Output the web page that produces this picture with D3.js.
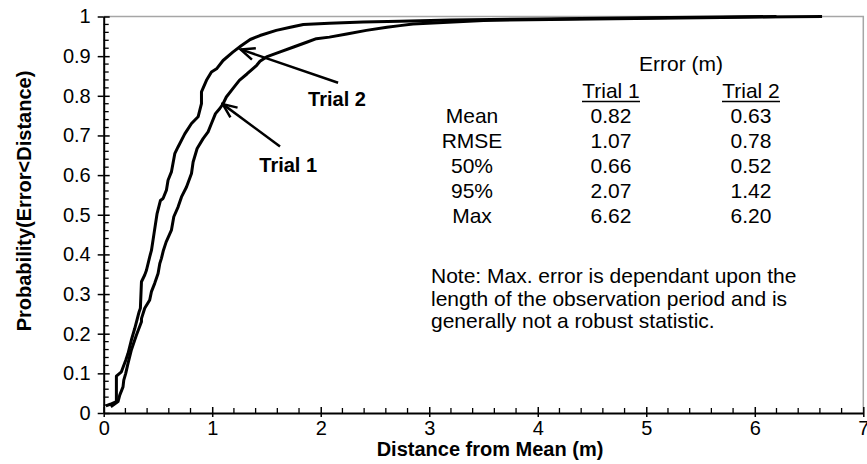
<!DOCTYPE html>
<html>
<head>
<meta charset="utf-8">
<script src="https://cdn.jsdelivr.net/npm/d3@7"></script>
<style>
  body { margin: 0; background: #fff; }
  svg { display: block; font-family: 'Liberation Sans', Arial, sans-serif; }
</style>
</head>
<body>
<div id="chart"></div>
<script>
// [distance (m), cumulative probability]
const trial1 = [
  [0.065, 0.016], [0.132, 0.029], [0.148, 0.045], [0.178, 0.066], [0.185, 0.083], [0.203, 0.100],
  [0.224, 0.125], [0.255, 0.159], [0.286, 0.184], [0.301, 0.196], [0.348, 0.230], [0.348, 0.238],
  [0.378, 0.264], [0.424, 0.285], [0.440, 0.306], [0.470, 0.327], [0.501, 0.352], [0.517, 0.377],
  [0.532, 0.390], [0.550, 0.410], [0.575, 0.431], [0.624, 0.461], [0.646, 0.495], [0.686, 0.520],
  [0.717, 0.545], [0.763, 0.570], [0.809, 0.604], [0.824, 0.633], [0.861, 0.667], [0.916, 0.692],
  [0.962, 0.709], [0.993, 0.730], [1.03, 0.755], [1.07, 0.768], [1.10, 0.780], [1.13, 0.797],
  [1.19, 0.818], [1.25, 0.839], [1.32, 0.855], [1.41, 0.877], [1.44, 0.887], [1.50, 0.898],
  [1.62, 0.910], [1.75, 0.923], [1.87, 0.935], [1.96, 0.944], [2.08, 0.948], [2.24, 0.956],
  [2.42, 0.965], [2.61, 0.973], [2.73, 0.977], [2.85, 0.981], [3.5, 0.990], [4.5, 0.994],
  [5.5, 0.997], [6.62, 1.0]
];
const trial2 = [
  [0.02, 0.018], [0.06, 0.022], [0.117, 0.029], [0.117, 0.093], [0.163, 0.104], [0.203, 0.133],
  [0.224, 0.150], [0.255, 0.184], [0.286, 0.213], [0.326, 0.255], [0.338, 0.264], [0.348, 0.331],
  [0.378, 0.348], [0.394, 0.360], [0.424, 0.394], [0.440, 0.410], [0.464, 0.453], [0.492, 0.503],
  [0.523, 0.536], [0.547, 0.541], [0.578, 0.562], [0.593, 0.587], [0.624, 0.608], [0.655, 0.654],
  [0.685, 0.671], [0.747, 0.704], [0.809, 0.730], [0.870, 0.747], [0.901, 0.780], [0.901, 0.810],
  [0.947, 0.839], [0.993, 0.860], [1.04, 0.868], [1.10, 0.889], [1.19, 0.910], [1.27, 0.927],
  [1.35, 0.942], [1.44, 0.952], [1.59, 0.965], [1.72, 0.973], [1.84, 0.980], [2.08, 0.983],
  [2.39, 0.986], [2.73, 0.988], [3.2, 0.991], [4.0, 0.994], [5.0, 0.997], [6.20, 1.0]
];

const statNames = ['Mean', 'RMSE', '50%', '95%', 'Max'];
const statTrial1 = ['0.82', '1.07', '0.66', '2.07', '6.62'];
const statTrial2 = ['0.63', '0.78', '0.52', '1.42', '6.20'];
const trialNames = ['Trial 1', 'Trial 2'];
const noteLines = [
  'Note: Max. error is dependant upon the',
  'length of the observation period and is',
  'generally not a robust statistic.'
];

// arrow annotations: label position, tail and tip in data units
const arrows = [
  { label: 'Trial 2', at: [2.15, 0.774], from: [2.16, 0.833], to: [1.262, 0.917] },
  { label: 'Trial 1', at: [1.70, 0.609], from: [1.625, 0.672], to: [1.097, 0.779] }
];

const xTicks = [0, 1, 2, 3, 4, 5, 6, 7];
const yTicks = [0, 0.1, 0.2, 0.3, 0.4, 0.5, 0.6, 0.7, 0.8, 0.9, 1];

const W = 867, H = 464;
const margin = { top: 16.5, right: 3.7, bottom: 51, left: 103.7 };
const width = W - margin.left - margin.right;
const height = H - margin.top - margin.bottom;

const x = d3.scaleLinear().domain([0, 7]).range([0, width]);
const y = d3.scaleLinear().domain([0, 1]).range([height, 0]);

const svg = d3.select('#chart').append('svg')
  .attr('width', W)
  .attr('height', H);

svg.append('defs').append('marker')
  .attr('id', 'head')
  .attr('markerUnits', 'userSpaceOnUse')
  .attr('viewBox', '-16 -8 18 16')
  .attr('refX', 0).attr('refY', 0)
  .attr('markerWidth', 18).attr('markerHeight', 16)
  .attr('orient', 'auto')
  .append('path')
  .attr('d', 'M-14,-6L0,0L-14,6')
  .attr('fill', 'none')
  .attr('stroke', '#000')
  .attr('stroke-width', 2.5);

const g = svg.append('g').attr('transform', `translate(${margin.left},${margin.top})`);

// grey frame on top and right
g.append('path')
  .attr('d', `M0,0H${width}V${height}`)
  .attr('fill', 'none')
  .attr('stroke', '#a6a6a6')
  .attr('stroke-width', 1.5);

// minor ticks
const xMinor = d3.range(0, 7.001, 0.2).filter(v => Math.abs(v - Math.round(v)) > 0.01);
const yMinor = d3.range(0, 1.001, 0.02).filter(v => Math.abs(v * 10 - Math.round(v * 10)) > 0.01);

g.append('g').selectAll('line').data(xMinor).join('line')
  .attr('x1', d => x(d)).attr('x2', d => x(d))
  .attr('y1', height).attr('y2', height - 5)
  .attr('stroke', '#000').attr('stroke-width', 1.3);

g.append('g').selectAll('line').data(yMinor).join('line')
  .attr('x1', 0).attr('x2', 5)
  .attr('y1', d => y(d)).attr('y2', d => y(d))
  .attr('stroke', '#000').attr('stroke-width', 1.3);

const xAxis = g.append('g')
  .attr('transform', `translate(0,${height})`)
  .call(d3.axisBottom(x).tickValues(xTicks).tickFormat(d3.format('d')).tickSizeInner(4).tickSizeOuter(0).tickPadding(4));
xAxis.selectAll('.tick line').clone().attr('y2', -6);

const yAxis = g.append('g')
  .call(d3.axisLeft(y).tickValues(yTicks).tickFormat(d => d === 0 || d === 1 ? d3.format('d')(d) : d3.format('.1f')(d)).tickSizeInner(6).tickSizeOuter(0).tickPadding(7));
yAxis.selectAll('.tick line').clone().attr('x2', 6);

g.selectAll('.domain').attr('stroke', '#000').attr('stroke-width', 2);
g.selectAll('.tick line').attr('stroke', '#000').attr('stroke-width', 1.5);
g.selectAll('.tick text').attr('font-size', 20).attr('fill', '#000')
  .attr('font-family', "'Liberation Sans', Arial, sans-serif");

// curves
const line = d3.line().x(d => x(d[0])).y(d => y(d[1]));
g.append('g').selectAll('path.cdf').data([trial1, trial2]).join('path')
  .attr('class', 'cdf')
  .attr('d', line)
  .attr('fill', 'none')
  .attr('stroke', '#000')
  .attr('stroke-width', 3)
  .attr('stroke-linejoin', 'round');

// arrows and labels
g.append('g').selectAll('line').data(arrows).join('line')
  .attr('x1', d => x(d.from[0])).attr('y1', d => y(d.from[1]))
  .attr('x2', d => x(d.to[0])).attr('y2', d => y(d.to[1]))
  .attr('stroke', '#000').attr('stroke-width', 2.5)
  .attr('marker-end', 'url(#head)');

g.append('g').selectAll('text').data(arrows).join('text')
  .attr('x', d => x(d.at[0])).attr('y', d => y(d.at[1]))
  .attr('text-anchor', 'middle')
  .attr('font-size', 20).attr('font-weight', 'bold')
  .text(d => d.label);

// stats table
const table = svg.append('g').attr('font-size', 21).attr('text-anchor', 'middle');
const colX = [472, 611, 751];
const rowY = d3.range(statNames.length).map(i => 123 + i * 25);

table.append('text').attr('x', 681).attr('y', 71).text('Error (m)');
trialNames.forEach((t, i) => {
  table.append('text').attr('x', colX[i + 1]).attr('y', 98).text(t);
  table.append('line')
    .attr('x1', colX[i + 1] - 29).attr('x2', colX[i + 1] + 29)
    .attr('y1', 101.5).attr('y2', 101.5)
    .attr('stroke', '#000').attr('stroke-width', 1.5);
});
[statNames, statTrial1, statTrial2].forEach((col, c) => {
  table.append('g').selectAll('text').data(col).join('text')
    .attr('x', colX[c])
    .attr('y', (d, i) => rowY[i])
    .text(d => d);
});

svg.append('g').attr('font-size', 21).selectAll('text').data(noteLines).join('text')
  .attr('x', 431)
  .attr('y', (d, i) => 283 + i * 22.5)
  .text(d => d);

// axis titles
svg.append('text')
  .attr('x', 490).attr('y', 456)
  .attr('text-anchor', 'middle')
  .attr('font-size', 20).attr('font-weight', 'bold')
  .text('Distance from Mean (m)');

svg.append('text')
  .attr('transform', 'translate(31,201) rotate(-90)')
  .attr('text-anchor', 'middle')
  .attr('font-size', 20).attr('font-weight', 'bold')
  .text('Probability(Error<Distance)');
</script>
</body>
</html>
